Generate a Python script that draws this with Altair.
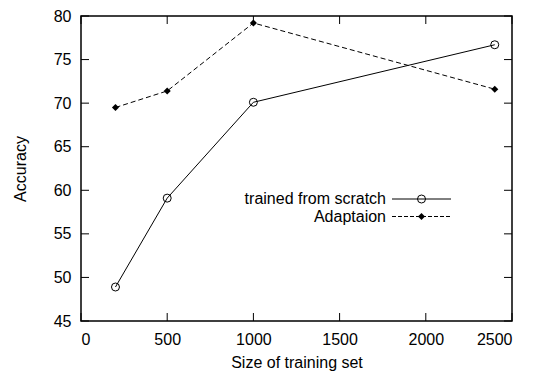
import altair as alt
import pandas as pd

# ---- data ----
sizes = [200, 500, 1000, 2400]
scratch = [48.9, 59.1, 70.1, 76.7]
adaptation = [69.5, 71.4, 79.2, 71.6]
series_names = ["trained from scratch", "Adaptaion"]
x_ticks = [0, 500, 1000, 1500, 2000, 2500]
y_ticks = [45, 50, 55, 60, 65, 70, 75, 80]

W, H = 431, 305
FONT = "Liberation Sans"
TICK = 8

df_s = pd.DataFrame({"size": sizes, "acc": scratch})
df_a = pd.DataFrame({"size": sizes, "acc": adaptation})
df_xt = pd.DataFrame({"size": x_ticks})
df_yt = pd.DataFrame({"acc": y_ticks})

xs = alt.Scale(domain=[0, 2500], nice=False, zero=False)
ys = alt.Scale(domain=[45, 80], nice=False, zero=False)

x_axis = alt.Axis(values=x_ticks, title="Size of training set", domain=False,
                  ticks=False, grid=False, labelPadding=10, format="d",
                  titleY=46, titleBaseline="alphabetic",
                  labelFont=FONT, titleFont=FONT, labelFontSize=16,
                  titleFontSize=16, labelColor="black", titleColor="black",
                  titleFontWeight="normal")
y_axis = alt.Axis(values=y_ticks, title="Accuracy", domain=False, ticks=False,
                  grid=False, labelPadding=10, titleX=-61, titleY=H / 2,
                  titleAngle=270, titleBaseline="middle", titleAlign="center",
                  labelFont=FONT, titleFont=FONT, labelFontSize=16,
                  titleFontSize=16, labelColor="black", titleColor="black",
                  titleFontWeight="normal")

X = alt.X("size:Q", scale=xs, axis=x_axis)
Y = alt.Y("acc:Q", scale=ys, axis=y_axis)

line_s = alt.Chart(df_s).mark_line(color="black", strokeWidth=1).encode(x=X, y=Y)
pts_s = alt.Chart(df_s).mark_point(shape="circle", filled=False, size=64,
                                   color="black", strokeWidth=1, opacity=1).encode(
    x=alt.X("size:Q", scale=xs), y=alt.Y("acc:Q", scale=ys))
line_a = alt.Chart(df_a).mark_line(color="black", strokeWidth=1,
                                   strokeDash=[5, 3]).encode(
    x=alt.X("size:Q", scale=xs), y=alt.Y("acc:Q", scale=ys))
pts_a = alt.Chart(df_a).mark_point(shape="diamond", filled=True, size=50,
                                   color="black", opacity=1).encode(
    x=alt.X("size:Q", scale=xs), y=alt.Y("acc:Q", scale=ys))

# inward gnuplot-style tick marks on all four sides
xt_bottom = alt.Chart(df_xt).mark_rule(color="black", strokeWidth=1).encode(
    x=alt.X("size:Q", scale=xs), y=alt.value(H), y2=alt.value(H - TICK))
xt_top = alt.Chart(df_xt).mark_rule(color="black", strokeWidth=1).encode(
    x=alt.X("size:Q", scale=xs), y=alt.value(0), y2=alt.value(TICK))
yt_left = alt.Chart(df_yt).mark_rule(color="black", strokeWidth=1).encode(
    y=alt.Y("acc:Q", scale=ys), x=alt.value(0), x2=alt.value(TICK))
yt_right = alt.Chart(df_yt).mark_rule(color="black", strokeWidth=1).encode(
    y=alt.Y("acc:Q", scale=ys), x=alt.value(W), x2=alt.value(W - TICK))

# gnuplot-style key: label on the left, sample on the right
leg_y = [183, 200.5]
leg_layers = []
for i, name in enumerate(series_names):
    d = pd.DataFrame({"label": [name]})
    txt = alt.Chart(d).mark_text(align="right", baseline="middle", fontSize=16,
                                 font=FONT, color="black").encode(
        x=alt.value(305), y=alt.value(leg_y[i]), text="label:N")
    rule_kw = dict(color="black", strokeWidth=1)
    if i == 1:
        rule_kw["strokeDash"] = [4, 2]
    rl = alt.Chart(d).mark_rule(**rule_kw).encode(
        x=alt.value(311), x2=alt.value(370), y=alt.value(leg_y[i]))
    if i == 0:
        mk = alt.Chart(d).mark_point(shape="circle", filled=False, size=64,
                                     color="black", strokeWidth=1, opacity=1)
    else:
        mk = alt.Chart(d).mark_point(shape="diamond", filled=True, size=50,
                                     color="black", opacity=1)
    mk = mk.encode(x=alt.value(340.5), y=alt.value(leg_y[i]))
    leg_layers += [txt, rl, mk]

chart = alt.layer(
    line_s, line_a, pts_s, pts_a, xt_bottom, xt_top, yt_left, yt_right,
    *leg_layers
).properties(
    width=W, height=H,
    background="white",
    autosize=alt.AutoSizeParams(type="none"),
    padding={"left": 73, "top": 8, "right": 10, "bottom": 54},
).configure_view(
    stroke="black", strokeWidth=1.5
)

chart.save("out.html", embed_options={"renderer": "svg", "actions": False})
